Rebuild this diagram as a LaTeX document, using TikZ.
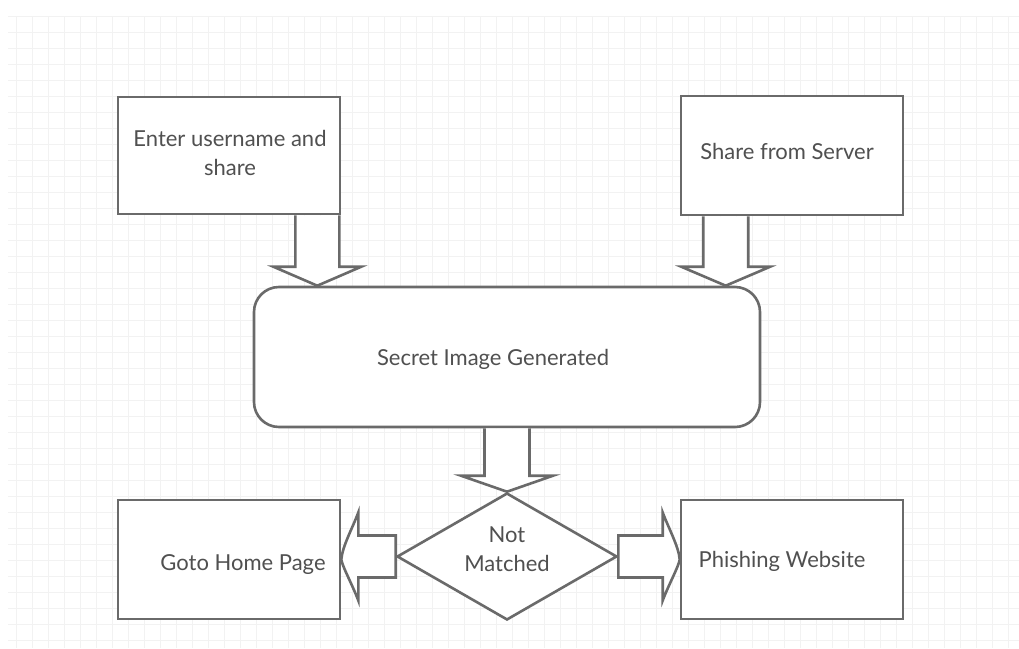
\documentclass[tikz,border=0pt]{standalone}
\usepackage{fontspec}
\setmainfont{Lato}
\usetikzlibrary{calc,shapes.geometric}
\definecolor{linec}{HTML}{6A6A6A}
\definecolor{textc}{HTML}{505050}
\definecolor{gridc}{HTML}{F2F2F2}
\tikzset{
  boxn/.style={draw=linec, line width=2.6pt, fill=white, rectangle, inner sep=0pt},
  lbl/.style={text=textc, font=\fontsize{22}{29}\selectfont, align=center, inner sep=0pt},
  barrow/.style={draw=linec, line width=2.6pt, fill=white, line join=miter},
}
% vertical block arrow: #1 start, #2 tip, #3 half shaft, #4 half head, #5 head length
\newcommand\barrowdown[5]{%
  \draw[barrow] let \p1=(#1), \p2=(#2) in
    (\x1-#3pt,\y1) -- (\x1-#3pt,\y2+#5pt) -- (\x1-#4pt,\y2+#5pt) -- (\x1,\y2)
    -- (\x1+#4pt,\y2+#5pt) -- (\x1+#3pt,\y2+#5pt) -- (\x1+#3pt,\y1);}
% right block arrow
\newcommand\barrowright[5]{%
  \draw[barrow] let \p1=(#1), \p2=(#2) in
    (\x1,\y1+#3pt) -- (\x2-#5pt,\y1+#3pt) -- (\x2-#5pt,\y1+#4pt)
    .. controls (\x2-#5pt+6pt,\y1+#4pt-16pt) and (\x2-1pt,\y1+10pt) .. (\x2,\y2)
    .. controls (\x2-1pt,\y1-10pt) and (\x2-#5pt+6pt,\y1-#4pt+16pt) .. (\x2-#5pt,\y1-#4pt)
    -- (\x2-#5pt,\y1-#3pt) -- (\x1,\y1-#3pt) -- cycle;}
% left block arrow
\newcommand\barrowleft[5]{%
  \draw[barrow] let \p1=(#1), \p2=(#2) in
    (\x1,\y1+#3pt) -- (\x2+#5pt,\y1+#3pt) -- (\x2+#5pt,\y1+#4pt)
    .. controls (\x2+#5pt-6pt,\y1+#4pt-16pt) and (\x2+1pt,\y1+10pt) .. (\x2,\y2)
    .. controls (\x2+1pt,\y1-10pt) and (\x2+#5pt-6pt,\y1-#4pt+16pt) .. (\x2+#5pt,\y1-#4pt)
    -- (\x2+#5pt,\y1-#3pt) -- (\x1,\y1-#3pt) -- cycle;}
\begin{document}
\begin{tikzpicture}[x=1pt,y=-1pt]
  \useasboundingbox (0,0) rectangle (1019,648);
  \fill[white] (0,0) rectangle (1019,648);
  \draw[gridc, line width=1pt] (8,16) grid[step=16pt] (1019,648);
  % nodes
  \node[boxn, minimum width=222pt, minimum height=117pt] (b1) at (229,155.5) {};
  \node[lbl] (t1) at (230,153) {Enter username and\\share};
  \node[boxn, minimum width=222pt, minimum height=119pt] (b2) at (792,155.5) {};
  \node[lbl] (t2) at (787,151) {Share from Server};
  \node[boxn, rounded corners=25pt, minimum width=506pt, minimum height=140pt] (sec) at (507,357) {};
  \node[lbl] (t3) at (493,359) {Secret Image Generated};
  \node[diamond, draw=linec, line width=2.6pt, fill=white, minimum width=220pt, minimum height=127pt, inner sep=0pt, aspect=1.73] (dia) at (507,556.5) {};
  \node[lbl] (t4) at (507,549) {Not\\Matched};
  \node[boxn, minimum width=222pt, minimum height=119pt] (b3) at (229,559.5) {};
  \node[lbl] (t5) at (243,565) {Goto Home Page};
  \node[boxn, minimum width=222pt, minimum height=119pt] (b4) at (792,559.5) {};
  \node[lbl] (t6) at (782,561) {Phishing Website};
  % connectors
  \coordinate (a1s) at ($(b1.south east)+(-24,0)$);
  \barrowdown{a1s}{a1s |- sec.north}{22}{44}{19}
  \coordinate (a2s) at ($(b2.south west)+(46,0)$);
  \barrowdown{a2s}{a2s |- sec.north}{22.5}{44.5}{19}
  \barrowdown{sec.south}{dia.north}{22.5}{46}{16}
  \barrowleft{dia.west}{b3.east}{21}{44}{17}
  \barrowright{dia.east}{b4.west}{21}{44}{17}
\end{tikzpicture}
\end{document}
